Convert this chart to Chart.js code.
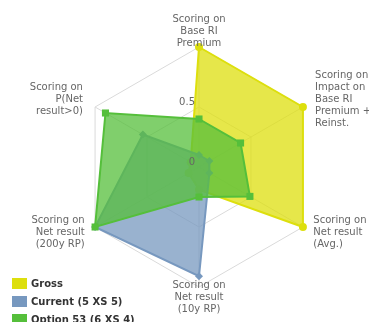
<!DOCTYPE html>
<html>
<head>
<meta charset="utf-8">
<title>Scoring radar</title>
<script src="https://cdn.jsdelivr.net/npm/chart.js@4.4.1/dist/chart.umd.min.js"></script>
<style>
  body { margin: 0; background: #fff; }
  #wrap { position: relative; width: 369px; height: 322px; overflow: hidden; }
  #legend { position: absolute; left: 12px; top: 274px; font: bold 10px "DejaVu Sans", sans-serif; color: #333; }
  #legend .row { height: 18px; display: flex; align-items: center; white-space: nowrap; }
  #legend .box { width: 15px; height: 11px; margin-right: 4px; }
</style>
</head>
<body>
<div id="wrap">
  <canvas id="myChart"></canvas>
  <div id="legend"></div>
</div>
<script>
// ==============================|| CHART DATA ||============================== //
const categories = [
  ['Scoring on', 'Base RI', 'Premium'],
  ['Scoring on', 'Impact on', 'Base RI', 'Premium +', 'Reinst.'],
  ['Scoring on', 'Net result', '(Avg.)'],
  ['Scoring on', 'Net result', '(10y RP)'],
  ['Scoring on', 'Net result', '(200y RP)'],
  ['Scoring on', 'P(Net', 'result>0)']
];
const seriesNames = ['Gross', 'Current (5 XS 5)', 'Option 53 (6 XS 4)'];
const grossValues = [1, 1, 1, 0.19, 0.1, 0.08];
const currentValues = [0.1, 0.1, 0.1, 0.91, 1, 0.54];
const optionValues = [0.4, 0.4, 0.49, 0.25, 1, 0.9];
const tickValues = [0, 0.5];
const tickLabels = ['0', '0.5'];

// styles
const seriesColors = ['#DDDF0D', '#7798BF', '#55BF3B'];
const seriesFills = ['rgba(221,223,13,0.75)', 'rgba(119,152,191,0.75)', 'rgba(85,191,59,0.75)'];
const markerShapes = ['circle', 'rectRot', 'rect'];
const markerSizes = [4, 4, 5];
const gridColor = '#dadada';
const labelColor = '#666666';
const labelFont = '10px "DejaVu Sans", sans-serif';

// ==============================|| AXIS TEXT ||============================== //
// category + tick labels, placed the way the original (Highcharts) draws them
const axisText = {
  id: 'axisText',
  afterDraw(chart) {
    const scale = chart.scales.r;
    const ctx = chart.ctx;
    ctx.save();
    ctx.fillStyle = labelColor;
    ctx.font = labelFont;
    ctx.textBaseline = 'middle';

    ctx.textAlign = 'right';
    tickValues.forEach((v, i) => {
      const d = scale.getDistanceFromCenterForValue(v);
      ctx.fillText(tickLabels[i], scale.xCenter - 4, scale.yCenter - d - 5);
    });

    const lineH = 12;
    categories.forEach((lines, i) => {
      const a = scale.getIndexAngle(i);
      const pos = scale.getPointPosition(i, scale.drawingArea + 13 + 2 * Math.cos(a));
      const s = Math.sin(a);
      ctx.textAlign = s > 0.1 ? 'left' : (s < -0.1 ? 'right' : 'center');
      const top = pos.y - (lines.length * lineH) / 2 + lineH / 2 - 1;
      lines.forEach((t, j) => ctx.fillText(t, pos.x, top + j * lineH));
    });
    ctx.restore();
  }
};

const seriesValues = [grossValues, currentValues, optionValues];

new Chart('myChart', {
  type: 'radar',
  data: {
    labels: categories,
    datasets: seriesValues.map((vals, i) => ({
      label: seriesNames[i],
      data: vals,
      order: 3 - i,
      fill: true,
      borderColor: seriesColors[i],
      backgroundColor: seriesFills[i],
      borderWidth: 2,
      pointStyle: markerShapes[i],
      pointRadius: markerSizes[i],
      pointBackgroundColor: seriesColors[i],
      pointBorderWidth: 0
    }))
  },
  options: {
    responsive: true,
    maintainAspectRatio: false,
    animation: false,
    layout: { padding: { left: 79, right: 50, top: 47, bottom: 35 } },
    elements: { line: { tension: 0 } },
    plugins: {
      legend: { display: false },
      tooltip: { enabled: false }
    },
    scales: {
      r: {
        min: 0,
        max: 1,
        ticks: { display: false, stepSize: 0.5 },
        grid: { color: gridColor },
        angleLines: { color: gridColor },
        pointLabels: { display: false }
      }
    }
  },
  plugins: [axisText]
});

// ==============================|| LEGEND ||============================== //
const legend = document.getElementById('legend');
seriesNames.forEach((name, i) => {
  const row = document.createElement('div');
  row.className = 'row';
  const box = document.createElement('span');
  box.className = 'box';
  box.style.background = seriesColors[i];
  row.appendChild(box);
  row.appendChild(document.createTextNode(name));
  legend.appendChild(row);
});
</script>
</body>
</html>
